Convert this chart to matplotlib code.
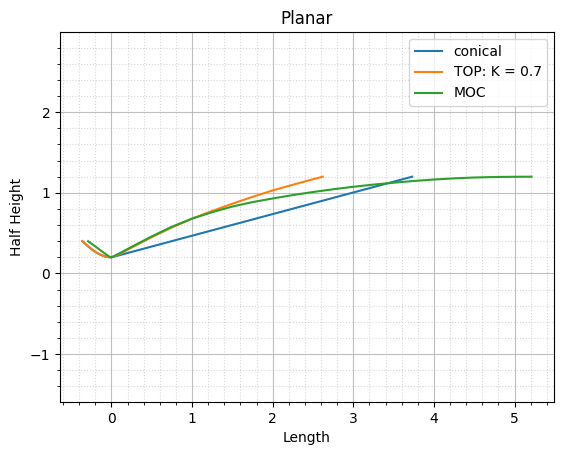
import matplotlib
matplotlib.use("Agg")
import matplotlib.pyplot as plt

# conical nozzle (converging part sits under the TOP curve)
conical_x = [-0.36, -0.30, -0.24, -0.18, -0.12, -0.07, -0.03, 0.0, 3.73]
conical_y = [0.40, 0.345, 0.295, 0.255, 0.225, 0.208, 0.201, 0.20, 1.20]

# TOP: K = 0.7
top_x = [-0.36, -0.30, -0.24, -0.18, -0.12, -0.07, -0.03, 0.0, 0.1, 0.25, 0.5,
         0.75, 1.0, 1.25, 1.5, 1.75, 2.0, 2.25, 2.45, 2.62]
top_y = [0.40, 0.345, 0.295, 0.255, 0.225, 0.208, 0.201, 0.20, 0.24, 0.32, 0.45,
         0.57, 0.68, 0.775, 0.865, 0.95, 1.03, 1.10, 1.155, 1.20]

# MOC
moc_x = [-0.29, -0.2, -0.1, -0.03, 0.0, 0.1, 0.25, 0.5, 0.75, 1.0, 1.25, 1.5,
         1.75, 2.0, 2.25, 2.5, 2.75, 3.0, 3.25, 3.5, 3.75, 4.0, 4.25, 4.5,
         4.75, 5.0, 5.21]
moc_y = [0.40, 0.335, 0.26, 0.21, 0.20, 0.25, 0.33, 0.46, 0.58, 0.68, 0.76, 0.83,
         0.885, 0.93, 0.972, 1.01, 1.044, 1.075, 1.102, 1.125, 1.147, 1.165,
         1.179, 1.19, 1.196, 1.199, 1.20]

fig, ax = plt.subplots(figsize=(5.65, 4.55), dpi=100)
fig.subplots_adjust(left=60 / 565, right=554 / 565, top=1 - 32 / 455, bottom=1 - 402 / 455)

ax.plot(conical_x, conical_y, label="conical")
ax.plot(top_x, top_y, label="TOP: K = 0.7")
ax.plot(moc_x, moc_y, label="MOC")

ax.axis("equal")
ax.minorticks_on()
ax.grid(which="major", color="#b0b0b0", linewidth=0.8, alpha=0.8)
ax.grid(which="minor", color="#b0b0b0", linestyle=":", linewidth=0.8, alpha=0.5)
ax.set_title("Planar")
ax.set_xlabel("Length")
ax.set_ylabel("Half Height")
ax.legend(loc="upper right")

fig.savefig("out.png")
